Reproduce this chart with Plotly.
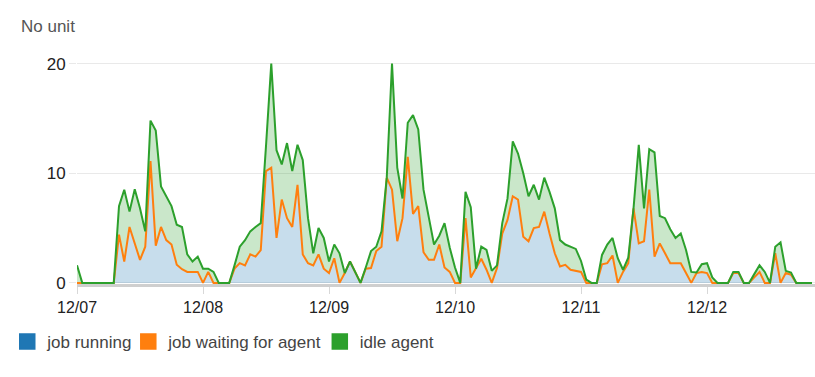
import pandas as pd
import plotly.graph_objects as go

# hourly samples starting 12/07 00:00
start = "2023-12-07 00:00"
n_points = 141

job_running = [0] * n_points

job_waiting = [
    0, 0, 0, 0, 0, 0, 0, 0, 4.4, 1.95, 5.1, 3.6, 2.1, 3.3, 11.1, 3.4, 5.1, 3.9, 3.5, 1.65, 1.25, 1.0, 1.0, 1.0,
    0, 1.0, 0, 0, 0, 0, 1.3, 1.8, 1.6, 2.6, 2.4, 3.0, 10.2, 10.5, 4.1, 7.6, 5.9, 5.1, 8.95, 2.6, 1.8, 1.6, 2.6, 1.3,
    0.9, 2.25, 0, 0.9, 1.95, 0.9, 0, 1.3, 1.35, 2.9, 3.3, 9.6, 8.5, 3.8, 5.9, 11.5, 6.3, 7.0, 2.8, 2.1, 2.1, 3.5, 1.4, 1.0,
    0, 0, 5.9, 0.5, 1.3, 2.2, 1.2, 0, 1.35, 4.5, 5.75, 7.9, 7.6, 4.2, 3.8, 5.0, 5.1, 6.5, 4.5, 2.7, 1.5, 1.65, 1.2, 1.1,
    1.0, 0, 0, 0, 1.7, 1.8, 2.5, 0, 1.0, 1.8, 6.8, 3.6, 3.8, 8.5, 2.4, 3.6, 2.7, 1.8, 1.8, 1.8, 0.9, 0, 0.9, 1.0,
    0.9, 0, 0, 0, 0, 0.9, 0.9, 0, 0, 0.5, 1.0, 0, 0, 2.7, 0, 0.9, 0.75, 0, 0, 0, 0,
]

idle_agent = [
    1.6, 0, 0, 0, 0, 0, 0, 0, 2.6, 6.55, 1.4, 4.95, 4.7, 1.4, 3.7, 10.5, 3.7, 4.0, 3.5, 3.65, 3.85, 1.6, 0.95, 1.4,
    1.3, 0.3, 1.0, 0, 0, 0, 0.3, 1.5, 2.3, 2.1, 2.7, 2.45, 2.3, 9.5, 8.0, 3.2, 6.85, 5.1, 3.65, 8.6, 4.1, 1.1, 2.4, 2.8,
    1.05, 1.25, 2.7, 0, 0, 0.1, 0, 0.1, 1.55, 0.4, 1.4, 0, 11.5, 6.7, 1.8, 3.1, 9.0, 7.0, 5.7, 3.9, 1.4, 0.8, 4.05, 2.2,
    1.4, 0, 2.4, 6.4, 0, 1.1, 1.8, 1.1, 0.25, 0.95, 1.95, 5.0, 4.2, 5.8, 4.1, 3.95, 2.5, 3.1, 3.8, 4.1, 2.4, 1.85, 2.1, 2.0,
    1.0, 0.3, 0, 0, 0.85, 1.7, 1.6, 2.25, 0.2, 0.5, 0, 9.0, 3.0, 3.7, 9.5, 2.5, 3.2, 3.1, 2.3, 2.7, 2.1, 1.0, 0.05, 0.7,
    0.9, 0.5, 0, 0, 0, 0.1, 0.1, 0, 0, 0.3, 0.6, 1.0, 0, 0.6, 3.7, 0.2, 0.2, 0, 0, 0, 0,
]

series_names = ["job running", "job waiting for agent", "idle agent"]
series_colors = ["#1f77b4", "#ff7f0e", "#2ca02c"]
fill_colors = ["rgba(0,0,0,0)", "rgba(31,119,180,0.25)", "rgba(44,160,44,0.25)"]
line_widths = [0, 2, 2]
legend_ids = ["legend", "legend2", "legend3"]
legend_x = [-0.0945, 0.0695, 0.329]

times = pd.date_range(start, periods=n_points, freq="h")

fig = go.Figure()
for name, vals, col, fc, lw in zip(series_names, [job_running, job_waiting, idle_agent],
                                    series_colors, fill_colors, line_widths):
    fig.add_trace(go.Scatter(
        x=times, y=vals, name=name, mode="lines", stackgroup="one",
        line=dict(color=col, width=lw), fillcolor=fc, showlegend=False,
        hoverinfo="x+y+name",
    ))
# legend entries (one legend box per entry for exact placement)
for name, col, lid in zip(series_names, series_colors, legend_ids):
    fig.add_trace(go.Scatter(
        x=[None], y=[None], name=name, mode="markers", legend=lid,
        marker=dict(symbol="square", size=15, color=col, line=dict(color=col, width=1.5)),
        showlegend=True,
    ))

font_family = "Liberation Sans, Arial, sans-serif"
legend_common = dict(orientation="h", y=-0.2554, yanchor="middle", xanchor="left",
                     font=dict(size=17, color="#444"), itemclick=False,
                     bgcolor="rgba(0,0,0,0)", borderwidth=0)
fig.update_layout(
    width=815, height=377,
    margin=dict(l=77, r=0, t=57.4, b=92.9, pad=0, autoexpand=False),
    paper_bgcolor="white", plot_bgcolor="white",
    font=dict(family=font_family, size=17, color="#333"),
    showlegend=True,
    legend=dict(x=legend_x[0], **legend_common),
    legend2=dict(x=legend_x[1], **legend_common),
    legend3=dict(x=legend_x[2], **legend_common),
    xaxis=dict(
        type="date", automargin=False,
        range=["2023-12-07 00:00", "2023-12-12 20:34"],
        tickformat="%m/%d", dtick=86400000, tick0="2023-12-07",
        showgrid=False, zeroline=False,
        showline=True, linecolor="#cfcfcf", linewidth=3,
        ticks="outside", ticklen=7, tickcolor="#d8d8d8", tickwidth=1,
        tickfont=dict(size=16, color="#222"),
    ),
    yaxis=dict(
        automargin=False,
        range=[-0.1, 20.6],
        tickvals=[0, 10, 20],
        showgrid=True, gridcolor="#e9e9e9", gridwidth=1,
        zeroline=False, showline=False,
        ticks="outside", ticklen=7, tickcolor="#e9e9e9",
        tickfont=dict(size=17, color="#222"),
    ),
    annotations=[dict(
        text="No unit", xref="paper", yref="paper", x=-0.079, y=1.134,
        xanchor="left", yanchor="middle", showarrow=False,
        font=dict(size=17, color="#555"),
    )],
)

fig.write_html("out.html", config={"displayModeBar": False},
               post_script="document.body.style.margin='0px';")
